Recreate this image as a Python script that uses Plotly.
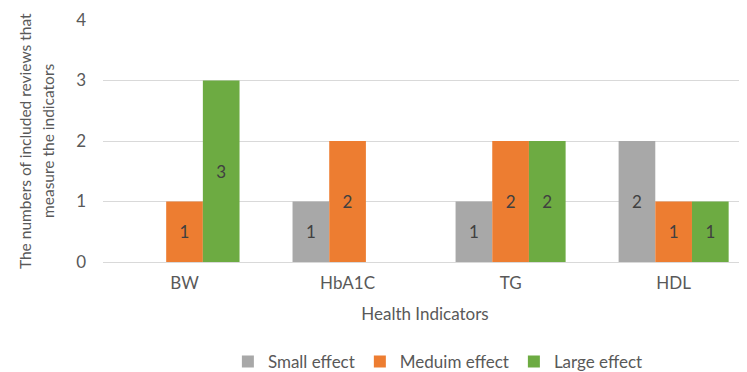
import plotly.graph_objects as go

categories = ["BW", "HbA1C", "TG", "HDL"]
series_names = ["Small effect", "Meduim effect", "Large effect"]
small_vals = [0, 1, 1, 2]
medium_vals = [1, 2, 2, 1]
large_vals = [3, 0, 2, 1]
y_ticks = [0, 1, 2, 3, 4]
y_title_lines = ["The numbers of included reviews that", "measure the indicators"]
x_title = "Health Indicators"

colors = ["#A8A8A8", "#ED7D31", "#6DAB42"]
font_family = "Lato, 'Open Sans', sans-serif"
text_color = "#595959"
fs = 17

fig = go.Figure()
for name, vals, col in zip(series_names, [small_vals, medium_vals, large_vals], colors):
    fig.add_trace(go.Bar(
        x=categories, y=vals, name=name,
        marker=dict(color=col, line=dict(width=0)),
        text=[str(v) if v else "" for v in vals],
        textposition="inside", insidetextanchor="middle",
        textfont=dict(color="#404040", size=fs, family=font_family),
        hoverinfo="x+y+name",
    ))

# page body has an 8px default margin, so the figure is 8px smaller each way
fig.update_layout(
    width=739, height=364,
    margin=dict(l=95, r=0, t=12, b=110, autoexpand=False),
    barmode="group", bargap=0.325, bargroupgap=0,
    plot_bgcolor="white", paper_bgcolor="white",
    font=dict(family=font_family, color=text_color, size=fs),
    xaxis=dict(
        range=[-0.5, 3.45], showgrid=False, showline=False, zeroline=False,
        ticks="", tickfont=dict(size=fs, color=text_color), automargin=False,
        ticklabelstandoff=9,
        title=dict(text=x_title, font=dict(size=fs, color=text_color), standoff=16),
    ),
    yaxis=dict(
        range=[0, 4], tickvals=y_ticks, showgrid=True, gridcolor="#D9D9D9", gridwidth=1,
        zeroline=True, zerolinecolor="#D9D9D9", zerolinewidth=1,
        showline=False, ticks="", ticklabelstandoff=16, automargin=False,
        tickfont=dict(size=fs, color=text_color),
    ),
    legend=dict(
        orientation="h", x=0.52, xanchor="center", y=-0.413, yanchor="middle",
        font=dict(size=fs, color=text_color), traceorder="normal",
        itemwidth=30, itemsizing="constant",
    ),
    showlegend=True,
)

for line_text, xpos in zip(y_title_lines, [-0.121, -0.0854]):
    fig.add_annotation(
        text=line_text, xref="paper", yref="paper", x=xpos, y=0.50,
        xanchor="center", yanchor="middle", textangle=-90, showarrow=False,
        font=dict(size=15.5, color=text_color, family=font_family),
    )

fig.write_html("out.html")
